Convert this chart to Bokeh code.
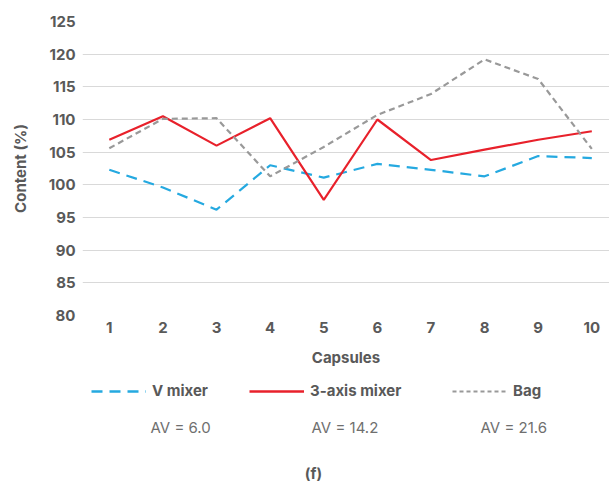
from bokeh.plotting import figure
from bokeh.models import Range1d, FixedTicker, Label, Legend, LegendItem
from bokeh.layouts import column
from bokeh.embed import file_html
from bokeh.resources import INLINE

capsules = [1, 2, 3, 4, 5, 6, 7, 8, 9, 10]
v_mixer = [102.3, 99.6, 96.2, 103.0, 101.1, 103.2, 102.3, 101.3, 104.4, 104.1]
axis3_mixer = [106.9, 110.5, 106.0, 110.2, 97.7, 110.0, 103.8, 105.4, 106.9, 108.2]
bag = [105.6, 110.1, 110.2, 101.3, 105.8, 110.7, 113.9, 119.2, 116.2, 105.5]
y_ticks = [80, 85, 90, 95, 100, 105, 110, 115, 120, 125]
series_names = ["V mixer", "3-axis mixer", "Bag"]
av_labels = ["AV = 6.0", "AV = 14.2", "AV = 21.6"]

FONT = "Inter"
DARK = "#595959"
BLUE = "#25a9e0"
RED = "#e8212b"
GRAY = "#999999"
NAN = float("nan")

p = figure(width=609, height=372, output_backend="svg", toolbar_location=None,
           x_range=Range1d(0.5, 10.33), y_range=Range1d(80, 125),
           min_border_left=82, min_border_right=0, min_border_top=21,
           min_border_bottom=57)
p.outline_line_color = None

p.line(capsules, v_mixer, line_color=BLUE, line_width=2.2, line_dash="11 7")
p.line(capsules, axis3_mixer, line_color=RED, line_width=2.2)
p.line(capsules, bag, line_color=GRAY, line_width=2.2, line_dash="6 4")

p.xgrid.grid_line_color = None
p.ygrid.grid_line_color = "#d9d9d9"
p.ygrid.grid_line_width = 1

p.xaxis.ticker = FixedTicker(ticks=capsules)
p.yaxis.ticker = FixedTicker(ticks=y_ticks)
for ax in (p.xaxis, p.yaxis):
    ax.axis_line_color = None
    ax.major_tick_line_color = None
    ax.minor_tick_line_color = None
    ax.major_tick_out = 0
    ax.major_tick_in = 0
    ax.major_label_text_font = FONT
    ax.major_label_text_font_size = "15px"
    ax.major_label_text_font_style = "bold"
    ax.major_label_text_color = DARK
    ax.axis_label_text_font = FONT
    ax.axis_label_text_font_size = "15px"
    ax.axis_label_text_font_style = "bold"
    ax.axis_label_text_color = DARK
p.xaxis.major_label_standoff = 6
p.yaxis.major_label_standoff = 7
p.xaxis.axis_label = "Capsules"
p.xaxis.axis_label_standoff = 12
p.yaxis.axis_label = "Content (%)"
p.yaxis.axis_label_standoff = 16

# lower panel: legend, AV values and panel letter (frame aligned with the chart: left at 82px)
p2 = figure(width=609, height=113, output_backend="svg", toolbar_location=None,
            x_range=Range1d(0, 527), y_range=Range1d(0, 113),
            x_axis_type=None, y_axis_type=None, min_border=0,
            min_border_left=82, min_border_right=0)
p2.outline_line_color = None
p2.grid.visible = False

d1 = p2.line([NAN], [NAN], line_color=BLUE, line_width=2.4, line_dash="11 7")
d2 = p2.line([NAN], [NAN], line_color=RED, line_width=2.4)
d3 = p2.line([NAN], [NAN], line_color=GRAY, line_width=2.0, line_dash="4 3")

for r, name, xpos in zip([d1, d2, d3], series_names, [9, 167, 370]):
    lg = Legend(items=[LegendItem(label=name, renderers=[r])],
                location=(xpos, 85), padding=0, margin=0,
                glyph_width=55, glyph_height=18, label_height=18,
                label_standoff=6, border_line_color=None,
                background_fill_alpha=0,
                label_text_font=FONT, label_text_font_size="15px",
                label_text_font_style="bold", label_text_color=DARK)
    p2.add_layout(lg, "center")

for xpos, t in zip([68, 229, 398], av_labels):
    p2.add_layout(Label(x=xpos, y=58, x_units="screen", y_units="screen",
                        text=t, text_font=FONT, text_font_size="15px",
                        text_color="#6f6f6f", text_align="left",
                        text_baseline="middle"))

p2.add_layout(Label(x=231, y=12, x_units="screen", y_units="screen",
                    text="(f)", text_font=FONT, text_font_size="15px",
                    text_font_style="bold", text_color=DARK,
                    text_align="center", text_baseline="middle"))

open("out.html", "w").write(file_html(column(p, p2), INLINE))
